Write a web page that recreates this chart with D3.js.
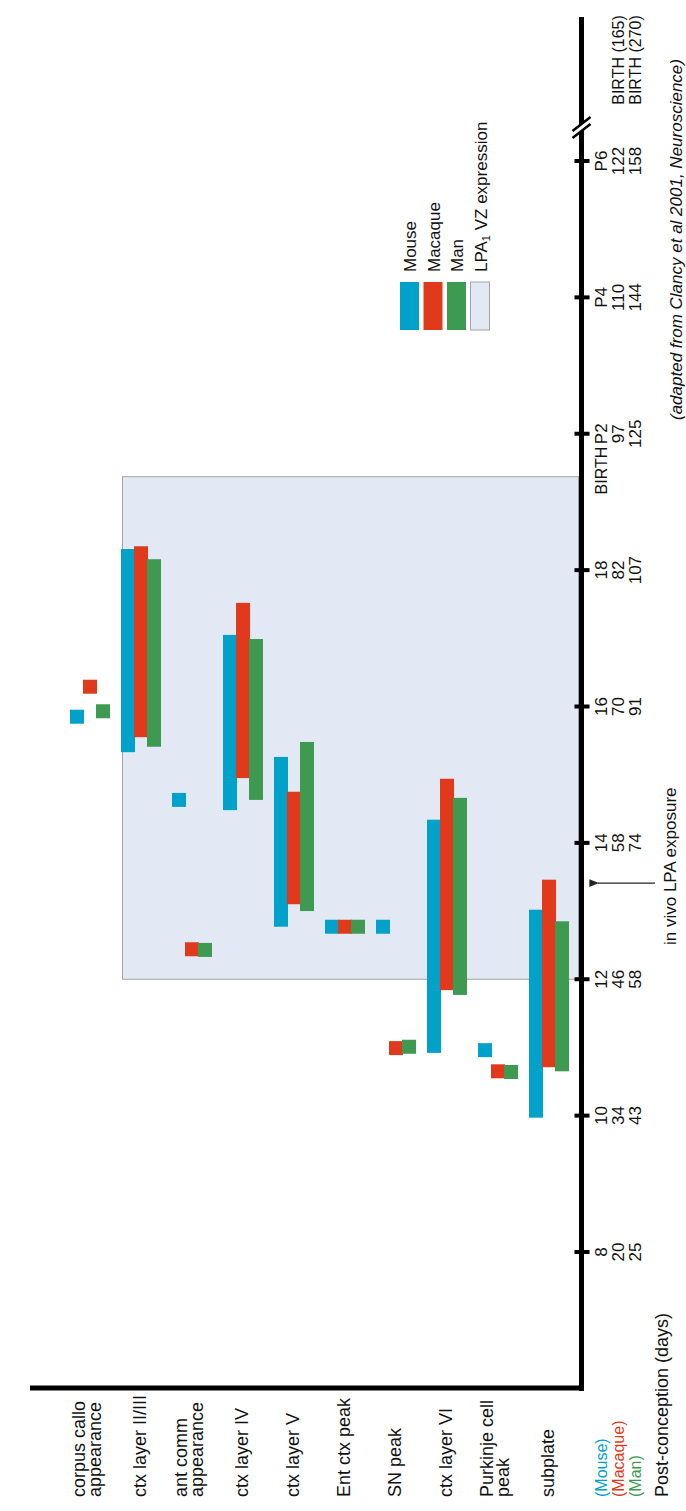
<!DOCTYPE html>
<html>
<head>
<meta charset="utf-8">
<script src="https://cdn.jsdelivr.net/npm/d3@7"></script>
<style>
  html, body { margin: 0; padding: 0; background: #fff; }
  svg { display: block; font-family: "Liberation Sans", Arial, Helvetica, sans-serif; }
</style>
</head>
<body>
<svg id="chart" width="686" height="1511"></svg>
<script>
// Developmental events, in mouse-equivalent post-conception days (E).
const categories = [
  ["corpus callo", "appearance"],
  ["ctx layer II/III"],
  ["ant comm", "appearance"],
  ["ctx layer IV"],
  ["ctx layer V"],
  ["Ent ctx peak"],
  ["SN peak"],
  ["ctx layer VI"],
  ["Purkinje cell", "peak"],
  ["subplate"]
];

// A single number is a point event (square); a pair is a period (bar).
const mouseDays = [15.85, [15.33, 18.31], 14.63, [14.48, 17.05], [12.77, 15.26], 12.77, 12.77, [10.92, 14.34], 10.96, [9.97, 13.02]];
const macaqueDays = [16.29, [15.55, 18.35], 12.44, [14.95, 17.52], [13.10, 14.75], 12.77, 10.99, [11.84, 14.94], 10.65, [10.71, 13.46]];
const manDays = [15.93, [15.41, 18.16], 12.43, [14.63, 16.99], [13.00, 15.48], 12.77, 11.01, [11.77, 14.66], 10.64, [10.65, 12.85]];

const speciesNames = ["Mouse", "Macaque", "Man"];
const speciesColors = ["#00a2c9", "#e0391c", "#3e9951"];

// Axis ticks (mouse day scale) with the equivalent labels for each species.
const tickDays = [8, 10, 12, 14, 16, 18, 20, 22, 24];
const mouseTicks = ["8", "10", "12", "14", "16", "18", "P2", "P4", "P6"];
const macaqueTicks = ["20", "34", "46", "58", "70", "82", "97", "110", "122"];
const manTicks = ["25", "43", "58", "74", "91", "107", "125", "144", "158"];
const birthLabels = ["BIRTH (165)", "BIRTH (270)"];

// Window of LPA1 ventricular-zone expression and the in vivo exposure day.
const lpaWindow = [12, 19.37];
const exposureDay = 13.41;

const svg = d3.select("#chart");

const axisX = 581.5, baseY = 1388;
const y = d3.scaleLinear().domain([8, 24]).range([1252, 161]);
const x = d3.scalePoint().domain(d3.range(categories.length)).range([90, 549]);
const sub = d3.scaleOrdinal().domain([0, 1, 2]).range([-20, -7, 6]);
const colW = 14, sq = 14;

function vtext(g, tx, ty, str, opts = {}) {
  return g.append("text")
    .attr("transform", `translate(${tx},${ty}) rotate(-90)`)
    .attr("text-anchor", opts.anchor || "middle")
    .attr("font-size", opts.size || 17)
    .attr("font-style", opts.italic ? "italic" : null)
    .attr("fill", opts.fill || "#111")
    .text(str);
}

// LPA1 expression window
svg.append("rect")
  .attr("x", 122.5).attr("width", axisX - 3 - 122.5)
  .attr("y", y(lpaWindow[1])).attr("height", y(lpaWindow[0]) - y(lpaWindow[1]))
  .attr("fill", "#e3e9f4").attr("stroke", "#a3a3a3").attr("stroke-width", 1);

// Bars and event squares
[mouseDays, macaqueDays, manDays].forEach((series, si) => {
  const g = svg.append("g").attr("fill", speciesColors[si]);
  series.forEach((v, ci) => {
    const left = x(ci) + sub(si);
    if (Array.isArray(v)) {
      g.append("rect").attr("x", left).attr("width", colW)
        .attr("y", y(v[1])).attr("height", y(v[0]) - y(v[1]));
    } else {
      g.append("rect").attr("x", left).attr("width", sq)
        .attr("y", y(v) - sq / 2).attr("height", sq);
    }
  });
});

// Axes
svg.append("line").attr("x1", axisX).attr("x2", axisX).attr("y1", 17).attr("y2", baseY + 3)
  .attr("stroke", "#000").attr("stroke-width", 5);
svg.append("line").attr("x1", 30).attr("x2", axisX + 2.5).attr("y1", baseY).attr("y2", baseY)
  .attr("stroke", "#000").attr("stroke-width", 5);

const ticks = svg.append("g");
tickDays.forEach((d, i) => {
  ticks.append("line").attr("x1", axisX - 7).attr("x2", axisX + 8)
    .attr("y1", y(d)).attr("y2", y(d)).attr("stroke", "#000").attr("stroke-width", 4);
  vtext(ticks, 607, y(d), mouseTicks[i]);
  vtext(ticks, 624, y(d), macaqueTicks[i]);
  vtext(ticks, 641, y(d), manTicks[i]);
});
// Birth marker beside P2 and the species birth days at the top of the axis
vtext(ticks, 607, y(20) + 13, "BIRTH", { anchor: "end", size: 16 });
vtext(ticks, 624, 60, birthLabels[0], { size: 16 });
vtext(ticks, 641, 60, birthLabels[1], { size: 16 });

// Axis break
const brk = svg.append("g");
brk.append("path").attr("d", `M${axisX - 9},${131} L${axisX + 9},${117} L${axisX + 9},${124} L${axisX - 9},${138} Z`)
  .attr("fill", "#fff");
[[131, 117], [138, 124]].forEach(([a, b]) => {
  brk.append("line").attr("x1", axisX - 9).attr("y1", a).attr("x2", axisX + 9).attr("y2", b)
    .attr("stroke", "#000").attr("stroke-width", 2.5);
});

// In vivo exposure arrow
const ay = y(exposureDay);
svg.append("defs").append("marker").attr("id", "head")
  .attr("viewBox", "0 0 10 10").attr("refX", 1).attr("refY", 5)
  .attr("markerWidth", 8).attr("markerHeight", 8).attr("orient", "auto")
  .append("path").attr("d", "M10,1 L0,5 L10,9 Z").attr("fill", "#222");
svg.append("line").attr("x1", 655).attr("x2", 598).attr("y1", ay).attr("y2", ay)
  .attr("stroke", "#222").attr("stroke-width", 1.2).attr("marker-end", "url(#head)");
vtext(svg, 676, 945, "in vivo LPA exposure", { anchor: "start" });

// Source note
vtext(svg, 682, 420, "(adapted from Clancy et al 2001, Neuroscience)", { anchor: "start", italic: true, size: 17 });

// Category labels
const cl = svg.append("g");
categories.forEach((lines, i) => {
  const offs = lines.length === 1 ? [5] : [-5, 11];
  lines.forEach((t, k) => vtext(cl, x(i) + offs[k], 1497, t, { anchor: "start", size: 18 }));
});

// Species key under the axis
speciesNames.forEach((n, i) => {
  vtext(cl, [607, 624, 641][i], 1497, `(${n})`, { anchor: "start", size: 16, fill: speciesColors[i] });
});
vtext(cl, 668, 1497, "Post-conception (days)", { anchor: "start", size: 18 });

// Legend
const lg = svg.append("g");
const legendFills = speciesColors.concat(["#e3e9f4"]);
legendFills.forEach((c, i) => {
  lg.append("rect").attr("x", 400 + i * 23.5).attr("y", 282).attr("width", 19).attr("height", 48)
    .attr("fill", c).attr("stroke", i === 3 ? "#a3a3a3" : "none");
});
speciesNames.forEach((n, i) => vtext(lg, 416 + i * 23.5, 272, n, { anchor: "start" }));
const lpaLabel = vtext(lg, 416 + 3 * 23.5, 272, "LPA", { anchor: "start" });
lpaLabel.append("tspan").attr("font-size", 11).attr("dy", 3).text("1");
lpaLabel.append("tspan").attr("dy", -3).text(" VZ expression");
</script>
</body>
</html>
